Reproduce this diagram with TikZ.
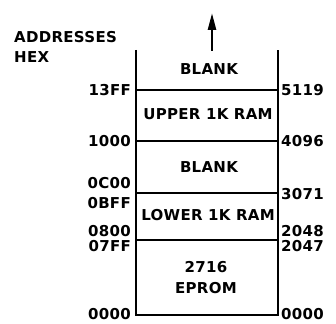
\documentclass[tikz,border=0pt]{standalone}
\usepackage{fontspec}
\setmainfont{DejaVu Sans}
\newfontfamily\memfont[LetterSpace=2]{DejaVu Sans Bold}
\usetikzlibrary{arrows.meta}

\begin{document}
\begin{tikzpicture}[x=1pt, y=-1pt,
  wall/.style={line width=2pt},
  divider/.style={line width=1.5pt},
  lbl/.style={font=\memfont\fontsize{15}{15}\selectfont, inner sep=0pt},
  addrl/.style={lbl, anchor=east},
  addrr/.style={lbl, anchor=west},
  arr/.style={-{Triangle[length=17pt,width=8pt]}, line width=2.5pt},
]
  \useasboundingbox (0,0) rectangle (336,323);

  % frame of the memory map
  \coordinate (tl) at (136,50);
  \coordinate (tr) at (278,50);
  \coordinate (bl) at (136,315);
  \coordinate (br) at (278,315);
  \draw[wall] (tl) -- (bl) -- (br) -- (tr);
  \draw[divider] (136,90) -- (278,90);
  \draw[divider] (136,141) -- (278,141);
  \draw[divider] (136,193) -- (278,193);
  \draw[divider] (136,240) -- (278,240);

  \coordinate (arrbase) at (212,51);
  \coordinate (arrtip) at (212,13);
  \draw[arr] (arrbase) -- (arrtip);

  \node[lbl, anchor=west] (addr) at (14,37) {ADDRESSES};
  \node[lbl, anchor=west] (hex) at (14,57) {HEX};

  % regions
  \node[lbl] (blankhi) at (209,69) {BLANK};
  \node[lbl] (ramhi) at (208,114) {UPPER 1K RAM};
  \node[lbl] (blanklo) at (209,167) {BLANK};
  \node[lbl] (ramlo) at (208,215) {LOWER 1K RAM};
  \node[lbl] (chip) at (206,267) {2716};
  \node[lbl] (eprom) at (206,288) {EPROM};

  % hex addresses
  \node[addrl] (h13ff) at (131,90) {13FF};
  \node[addrl] (h1000) at (131,141) {1000};
  \node[addrl] (h0c00) at (131,183) {0C00};
  \node[addrl] (h0bff) at (131,203) {0BFF};
  \node[addrl] (h0800) at (131,231) {0800};
  \node[addrl] (h07ff) at (131,246) {07FF};
  \node[addrl] (h0000) at (131,314) {0000};

  % decimal addresses
  \node[addrr] (d5119) at (281,90) {5119};
  \node[addrr] (d4096) at (281,141) {4096};
  \node[addrr] (d3071) at (281,194) {3071};
  \node[addrr] (d2048) at (281,231) {2048};
  \node[addrr] (d2047) at (281,246) {2047};
  \node[addrr] (d0000) at (281,314) {0000};
\end{tikzpicture}
\end{document}
